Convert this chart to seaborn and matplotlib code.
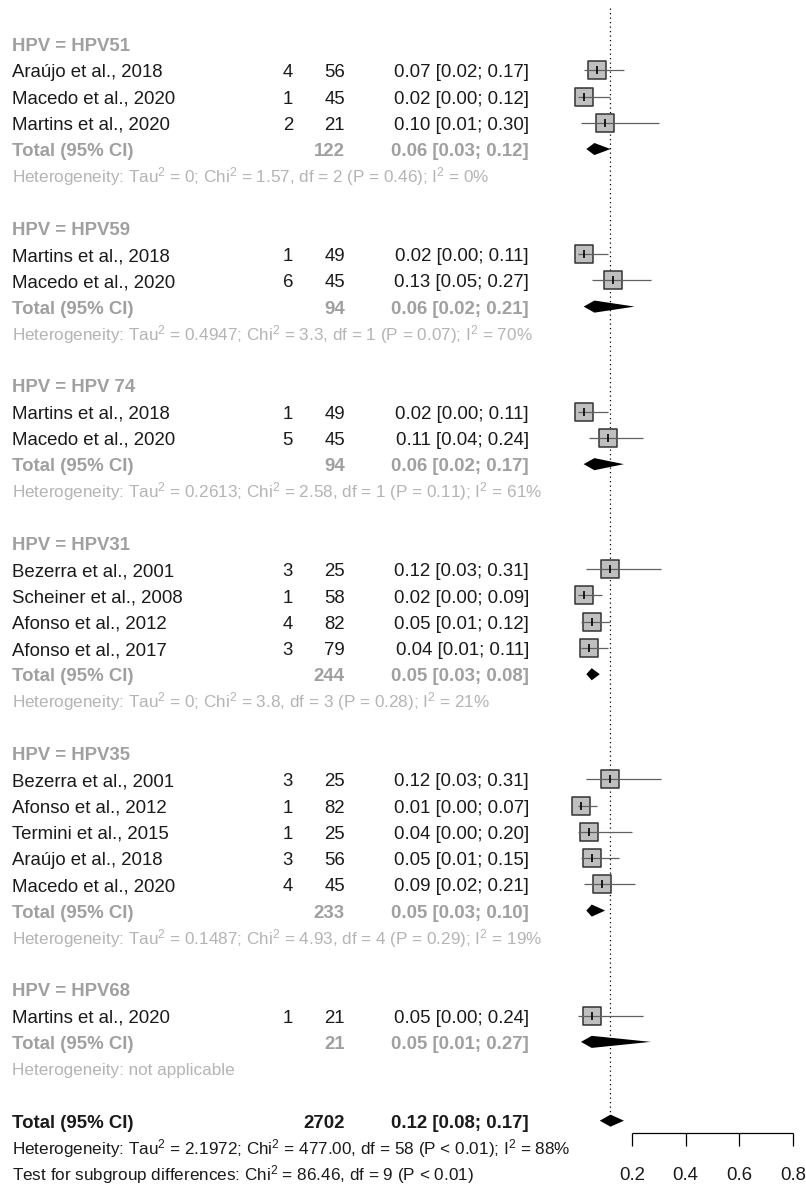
import numpy as np
import pandas as pd
import matplotlib
matplotlib.use("Agg")
import matplotlib.pyplot as plt
import matplotlib.transforms as mtransforms
import seaborn as sns

# ---- data -------------------------------------------------------------
groups = ["HPV51", "HPV59", "HPV 74", "HPV31", "HPV35", "HPV68"]

study_group = [0, 0, 0, 1, 1, 2, 2, 3, 3, 3, 3, 4, 4, 4, 4, 4, 5]
study_names = [
    "Araújo et al., 2018", "Macedo et al., 2020", "Martins et al., 2020",
    "Martins et al., 2018", "Macedo et al., 2020",
    "Martins et al., 2018", "Macedo et al., 2020",
    "Bezerra et al., 2001", "Scheiner et al., 2008", "Afonso et al., 2012", "Afonso et al., 2017",
    "Bezerra et al., 2001", "Afonso et al., 2012", "Termini et al., 2015",
    "Araújo et al., 2018", "Macedo et al., 2020",
    "Martins et al., 2020",
]
study_events = [4, 1, 2, 1, 6, 1, 5, 3, 1, 4, 3, 3, 1, 1, 3, 4, 1]
study_totals = [56, 45, 21, 49, 45, 49, 45, 25, 58, 82, 79, 25, 82, 25, 56, 45, 21]
study_prop = [0.07, 0.02, 0.10, 0.02, 0.13, 0.02, 0.11, 0.12, 0.02, 0.05, 0.04,
              0.12, 0.01, 0.04, 0.05, 0.09, 0.05]
study_lower = [0.02, 0.00, 0.01, 0.00, 0.05, 0.00, 0.04, 0.03, 0.00, 0.01, 0.01,
               0.03, 0.00, 0.00, 0.01, 0.02, 0.00]
study_upper = [0.17, 0.12, 0.30, 0.11, 0.27, 0.11, 0.24, 0.31, 0.09, 0.12, 0.11,
               0.31, 0.07, 0.20, 0.15, 0.21, 0.24]

group_n = [122, 94, 94, 244, 233, 21]
group_prop = [0.06, 0.06, 0.06, 0.05, 0.05, 0.05]
group_lower = [0.03, 0.02, 0.02, 0.03, 0.03, 0.01]
group_upper = [0.12, 0.21, 0.17, 0.08, 0.10, 0.27]
group_het = [
    r"Heterogeneity: Tau$^2$ = 0; Chi$^2$ = 1.57, df = 2 (P = 0.46); I$^2$ = 0%",
    r"Heterogeneity: Tau$^2$ = 0.4947; Chi$^2$ = 3.3, df = 1 (P = 0.07); I$^2$ = 70%",
    r"Heterogeneity: Tau$^2$ = 0.2613; Chi$^2$ = 2.58, df = 1 (P = 0.11); I$^2$ = 61%",
    r"Heterogeneity: Tau$^2$ = 0; Chi$^2$ = 3.8, df = 3 (P = 0.28); I$^2$ = 21%",
    r"Heterogeneity: Tau$^2$ = 0.1487; Chi$^2$ = 4.93, df = 4 (P = 0.29); I$^2$ = 19%",
    "Heterogeneity: not applicable",
]

overall_n = 2702
overall_prop = 0.12
overall_lower = 0.08
overall_upper = 0.17
overall_het = r"Heterogeneity: Tau$^2$ = 2.1972; Chi$^2$ = 477.00, df = 58 (P < 0.01); I$^2$ = 88%"
subgroup_test = r"Test for subgroup differences: Chi$^2$ = 86.46, df = 9 (P < 0.01)"

tick_values = [0.2, 0.4, 0.6, 0.8]

# ---- style ------------------------------------------------------------
sns.set_theme(style="white")
plt.rcParams["font.family"] = ["Liberation Sans", "DejaVu Sans"]
plt.rcParams["mathtext.default"] = "regular"

W, H = 806, 1187
ROW0, ROW_H = 44.0, 26.26          # pixel centre of first row, row pitch
X0, X_UNIT = 578.3, 268.3          # pixel of proportion 0, pixels per unit

FS_MAIN = 13.45
FS_HET = 12.3
C_TEXT = "#1a1a1a"
C_GREY = "#a0a0a0"
C_HET = "#b4b4b4"

fig = plt.figure(figsize=(W / 100, H / 100), dpi=100)
fig.patch.set_facecolor("white")
ax = fig.add_axes([0, 0, 1, 1])
ax.set_xlim(-X0 / X_UNIT, (W - X0) / X_UNIT)
ax.set_ylim((H - ROW0) / ROW_H, -ROW0 / ROW_H)
ax.axis("off")

tr = mtransforms.blended_transform_factory(fig.transFigure, ax.transData)
X_LABEL, X_EVENTS, X_TOTAL, X_CI = 12 / W, 293 / W, 345 / W, 529 / W
BASE = 0.27  # baseline offset below the row centre


def ci_text(p, lo, hi):
    return f"{p:.2f} [{lo:.2f}; {hi:.2f}]"


def put(x, row, s, ha="left", **kw):
    ax.text(x, row + BASE, s, transform=tr, ha=ha, va="baseline", **kw)


def diamond(p, lo, hi, row, h=0.23):
    ax.fill([lo, p, hi, p], [row, row - h, row, row + h],
            color="black", lw=0, zorder=4)


# ---- layout rows -----------------------------------------------------
study_rows = []
row = 0
for g, name in enumerate(groups):
    put(X_LABEL, row, f"HPV = {name}", color=C_GREY, fontsize=FS_MAIN, fontweight="bold")
    row += 1
    for i in [k for k, sg in enumerate(study_group) if sg == g]:
        study_rows.append(row)
        put(X_LABEL, row, study_names[i], color=C_TEXT, fontsize=FS_MAIN)
        put(X_EVENTS, row, str(study_events[i]), ha="right", color=C_TEXT, fontsize=FS_MAIN)
        put(X_TOTAL, row, str(study_totals[i]), ha="right", color=C_TEXT, fontsize=FS_MAIN)
        put(X_CI, row, ci_text(study_prop[i], study_lower[i], study_upper[i]),
            ha="right", color=C_TEXT, fontsize=FS_MAIN)
        row += 1
    put(X_LABEL, row, "Total (95% CI)", color=C_GREY, fontsize=FS_MAIN, fontweight="bold")
    put(X_TOTAL, row, str(group_n[g]), ha="right", color=C_GREY, fontsize=FS_MAIN, fontweight="bold")
    put(X_CI, row, ci_text(group_prop[g], group_lower[g], group_upper[g]),
        ha="right", color=C_GREY, fontsize=FS_MAIN, fontweight="bold")
    diamond(group_prop[g], group_lower[g], group_upper[g], row)
    row += 1
    put(X_LABEL, row, group_het[g], color=C_HET, fontsize=FS_HET)
    row += 2

overall_row = row
put(X_LABEL, row, "Total (95% CI)", color=C_TEXT, fontsize=FS_MAIN, fontweight="bold")
put(X_TOTAL, row, str(overall_n), ha="right", color=C_TEXT, fontsize=FS_MAIN, fontweight="bold")
put(X_CI, row, ci_text(overall_prop, overall_lower, overall_upper),
    ha="right", color=C_TEXT, fontsize=FS_MAIN, fontweight="bold")
diamond(overall_prop, overall_lower, overall_upper, row)
put(X_LABEL, row + 1, overall_het, color=C_TEXT, fontsize=FS_HET)
put(X_LABEL, row + 2, subgroup_test, color=C_TEXT, fontsize=FS_HET)

# ---- study estimates ---------------------------------------------------
df = pd.DataFrame({
    "row": study_rows,
    "prop": study_prop,
    "lower": study_lower,
    "upper": study_upper,
})

# reference line at the pooled estimate
ax.vlines(overall_prop, -1.37, overall_row - 0.23, colors="black",
          linestyles=(0, (1.0, 2.6)), lw=0.9, zorder=1)

sns.scatterplot(data=df, x="prop", y="row", marker="s", s=150, color="#bfbfbf",
                edgecolor="#333333", linewidth=1.1, ax=ax, zorder=3, legend=False)
ax.hlines(df["row"], df["lower"], df["upper"], colors="#606060", lw=0.9, zorder=4)
ax.scatter(df["prop"], df["row"], marker="|", s=28, color="black", linewidths=1.2, zorder=5)

# ---- x axis ------------------------------------------------------------
axis_row = overall_row + 0.47
ax.hlines(axis_row, tick_values[0], tick_values[-1], colors="black", lw=0.9)
ax.vlines(tick_values, axis_row, axis_row + 0.5, colors="black", lw=0.9)
for t in tick_values:
    ax.text(t, overall_row + 2 + BASE, f"{t:.1f}", ha="center", va="baseline",
            color=C_TEXT, fontsize=FS_MAIN)

fig.savefig("out.png", dpi=100, facecolor="white")
